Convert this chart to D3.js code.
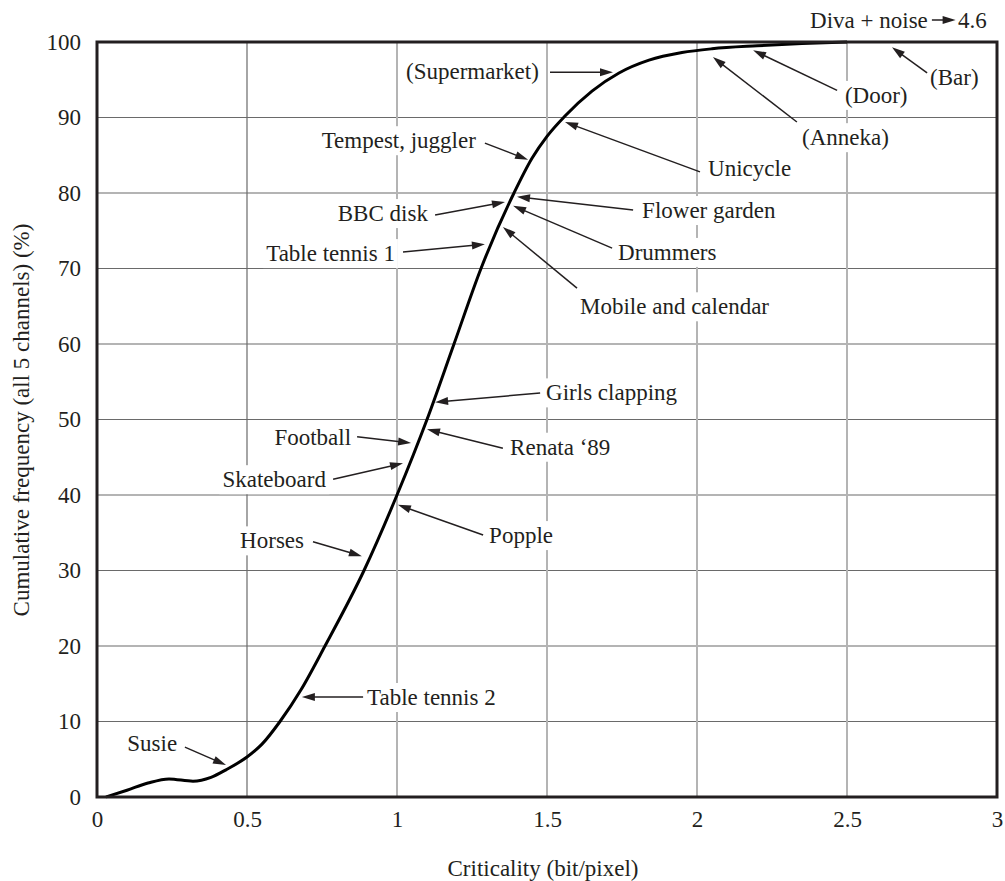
<!DOCTYPE html>
<html><head><meta charset="utf-8">
<script src="https://cdn.jsdelivr.net/npm/d3@7"></script>
<style>body{margin:0;background:#fff}</style>
</head><body>
<svg id="chart" width="1005" height="881"></svg>
<script>
// ---- data ----
const criticality = [0.03,0.1,0.17,0.24,0.32,0.38,0.43,0.5,0.55,0.61,0.68,0.76,0.89,1.0,1.1,1.19,1.28,1.39,1.45,1.5,1.56,1.65,1.74,1.84,1.95,2.05,2.2,2.35,2.5];
const cumFreq     = [0,0.9,1.85,2.4,2.1,2.6,3.6,5.3,7.0,10,14.2,20,30,40,50,60,70,80,84.6,87.5,90.2,93.5,95.9,97.6,98.6,99.1,99.5,99.8,100];
const xTicks = [0,0.5,1,1.5,2,2.5,3];
const xTickLabels = ["0","0.5","1","1.5","2","2.5","3"];
const yTicks = [0,10,20,30,40,50,60,70,80,90,100];
const xTitle = "Criticality (bit/pixel)";
const yTitle = "Cumulative frequency (all 5 channels) (%)";
// annotations: label text, label anchor point, arrow tail, arrow tip (data coordinates)
const annText   = ["(Supermarket)","Tempest, juggler","BBC disk","Table tennis 1","Flower garden","Drummers","Mobile and calendar","Unicycle","(Anneka)","(Door)","(Bar)","Girls clapping","Football","Renata \u201889","Skateboard","Horses","Popple","Table tennis 2","Susie"];
const annAnchor = ["end","end","end","end","start","start","start","start","start","start","start","start","end","start","end","end","start","start","end"];
const annTextX  = [1.473,1.263,1.103,0.993,1.817,1.737,1.61,2.037,2.35,2.493,2.777,1.497,0.847,1.377,0.763,0.69,1.307,0.9,0.267];
const annTextY  = [96.16,87.0,77.35,72.05,77.75,72.2,65.0,83.3,87.4,93.0,95.4,53.6,47.7,46.4,42.1,34.0,34.7,13.25,7.15];
const annTailX  = [1.51,1.293,1.127,1.02,1.787,1.717,1.6,2.01,2.333,2.467,2.767,1.477,0.867,1.353,0.787,0.72,1.287,0.887,0.293];
const annTailY  = [96.0,86.6,77.1,72.2,77.75,72.7,67.4,82.8,89.4,93.6,95.9,53.5,47.7,46.2,42.1,33.8,34.7,13.25,6.6];
const annTipX   = [1.72,1.437,1.36,1.293,1.4,1.387,1.353,1.56,2.053,2.187,2.65,1.127,1.047,1.1,1.02,0.883,1.003,0.683,0.43];
const annTipY   = [96.0,84.4,78.8,73.2,79.5,78.3,75.5,89.4,98.0,98.9,99.3,52.3,46.9,48.7,44.2,31.9,38.7,13.25,4.24];
const offText1 = "Diva + noise";
const offText2 = "4.6";

// ---- layout ----
const svg = d3.select("#chart");
const L = 97, R = 997, T = 42, B = 797;
const x = d3.scaleLinear().domain([0,3]).range([L,R]);
const y = d3.scaleLinear().domain([0,100]).range([B,T]);
const ink = "#231f20";
const font = "'Liberation Serif','Times New Roman',serif";
const fs = 23;

// grid
svg.append("g").selectAll("line").data(yTicks.filter(d=>d>0&&d<100)).join("line")
  .attr("x1",L).attr("x2",R).attr("y1",d=>y(d)).attr("y2",d=>y(d))
  .attr("stroke","#6a6a6a").attr("stroke-width",1.2);
svg.append("g").selectAll("line").data(xTicks.filter(d=>d>0&&d<3)).join("line")
  .attr("y1",T).attr("y2",B).attr("x1",d=>x(d)).attr("x2",d=>x(d))
  .attr("stroke",d=>d===0.5?"#6a6a6a":"#b4b4b4").attr("stroke-width",d=>d===0.5?1.2:2);

// annotation labels with white backgrounds
const annG = svg.append("g");
const texts = annText.map((t,i)=>{
  const tx = annG.append("text").attr("x",x(annTextX[i])).attr("y",y(annTextY[i]))
    .attr("dy","0.35em").attr("text-anchor",annAnchor[i])
    .attr("font-family",font).attr("font-size",fs).attr("fill",ink).text(t);
  return tx;
});
texts.forEach(tx=>{
  const b = tx.node().getBBox();
  annG.insert("rect","text").attr("x",b.x-3).attr("y",b.y-2).attr("width",b.width+6).attr("height",b.height+4).attr("fill","#fff");
});

// curve
const pts = criticality.map((c,i)=>[c,cumFreq[i]]);
svg.append("path").datum(pts)
  .attr("d",d3.line().x(d=>x(d[0])).y(d=>y(d[1])).curve(d3.curveMonotoneX))
  .attr("fill","none").attr("stroke","#000").attr("stroke-width",3).attr("stroke-linejoin","round");

// arrows
function arrow(g,x1,y1,x2,y2){
  const ang = Math.atan2(y2-y1,x2-x1);
  const hl = 13, hw = 4;
  const bx = x2 - hl*Math.cos(ang), by = y2 - hl*Math.sin(ang);
  g.append("line").attr("x1",x1).attr("y1",y1).attr("x2",bx+2*Math.cos(ang)).attr("y2",by+2*Math.sin(ang))
    .attr("stroke",ink).attr("stroke-width",1.5);
  const px = -Math.sin(ang)*hw, py = Math.cos(ang)*hw;
  g.append("path").attr("d",`M${x2},${y2}L${bx+px},${by+py}L${bx-px},${by-py}Z`).attr("fill",ink);
}
const arrG = svg.append("g");
annText.forEach((t,i)=>arrow(arrG,x(annTailX[i]),y(annTailY[i]),x(annTipX[i]),y(annTipY[i])));

// frame
svg.append("rect").attr("x",L).attr("y",T).attr("width",R-L).attr("height",B-T)
  .attr("fill","none").attr("stroke",ink).attr("stroke-width",3);

// axes
const yAxis = svg.append("g").attr("transform",`translate(${L-16},0)`)
  .call(d3.axisLeft(y).tickValues(yTicks).tickSize(0).tickPadding(0));
yAxis.select(".domain").remove();
yAxis.selectAll("text").attr("font-family",font).attr("font-size",fs).attr("fill",ink);
const xAxis = svg.append("g").attr("transform",`translate(0,${B+14})`)
  .call(d3.axisBottom(x).tickValues(xTicks).tickFormat((d,i)=>xTickLabels[i]).tickSize(0).tickPadding(0));
xAxis.select(".domain").remove();
xAxis.selectAll("text").attr("font-family",font).attr("font-size",fs).attr("fill",ink);

// titles
svg.append("text").attr("x",543).attr("y",868).attr("dy","0.35em").attr("text-anchor","middle")
  .attr("font-family",font).attr("font-size",fs).attr("fill",ink).text(xTitle);
svg.append("text").attr("transform","translate(21,420) rotate(-90)").attr("dy","0.35em").attr("text-anchor","middle")
  .attr("font-family",font).attr("font-size",fs).attr("fill",ink).text(yTitle);

// off-chart note
const offG = svg.append("g");
const dy0 = 20;
offG.append("text").attr("x",x(2.377)).attr("y",dy0).attr("dy","0.35em")
  .attr("font-family",font).attr("font-size",fs).attr("fill",ink).text(offText1);
arrow(offG,x(2.783),dy0,x(2.862),dy0);
offG.append("text").attr("x",x(2.87)).attr("y",dy0).attr("dy","0.35em")
  .attr("font-family",font).attr("font-size",fs).attr("fill",ink).text(offText2);
</script>
</body></html>
